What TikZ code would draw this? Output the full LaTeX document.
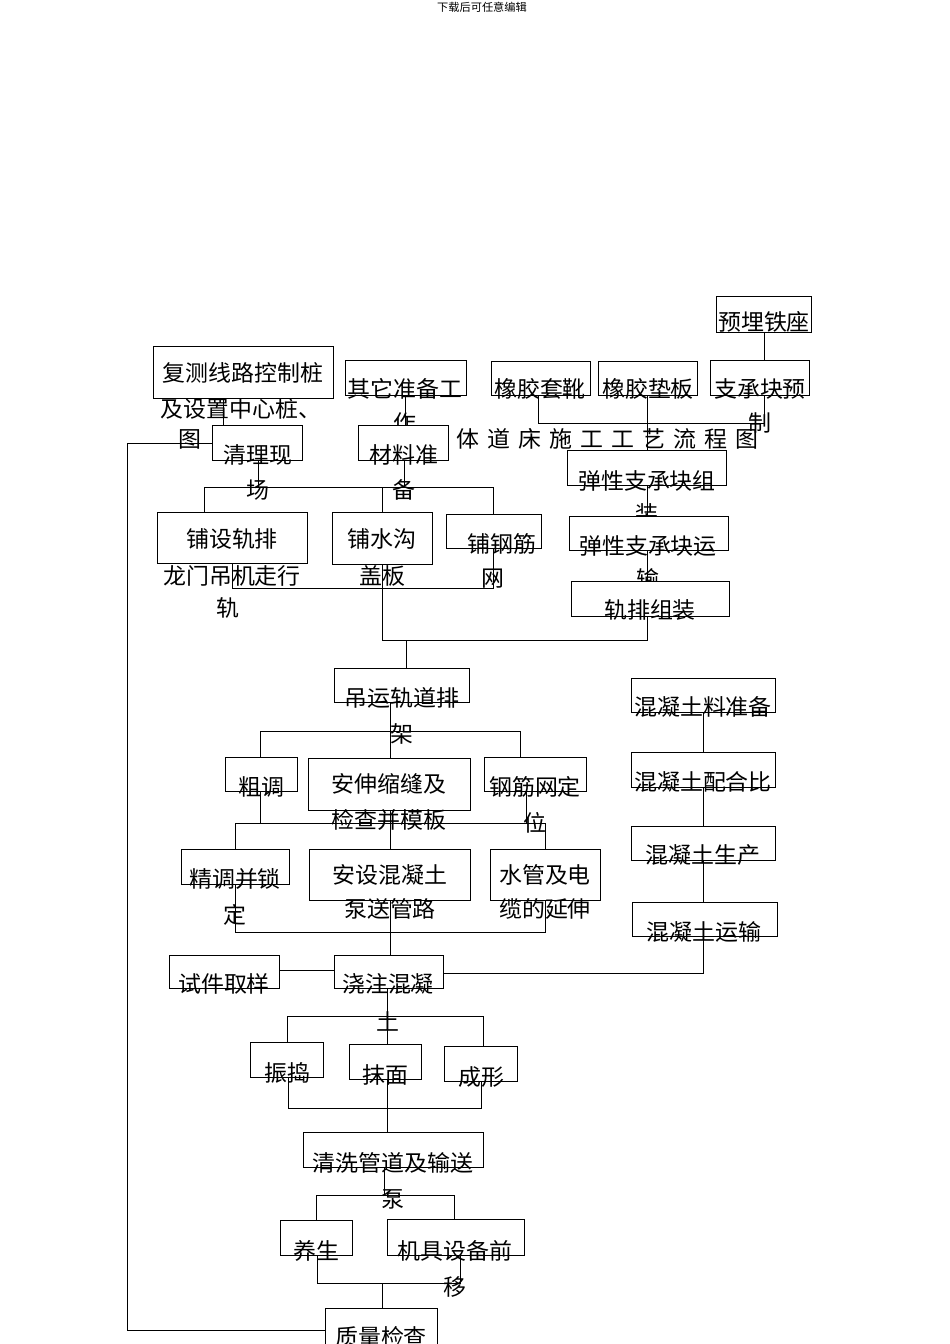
\documentclass[tikz,border=0pt]{standalone}
\usepackage{fontspec}
\newfontfamily\cjk{Noto Sans CJK SC}[FakeStretch=1.02]
\usetikzlibrary{fit}
\tikzset{bxs/.style={draw, fill=white, inner sep=0pt, line width=1pt},
  txt/.style={font=\cjk\fontsize{22.5}{22.5}\selectfont, inner sep=0pt},
  ln/.style={line width=1pt}}
\newcommand\bx[5]{\path (#2,#3) coordinate (#1-a) (#4,#5) coordinate (#1-b); \node[bxs, fit=(#1-a)(#1-b)] (#1) {};}
\newcommand\tx[4]{\node[txt] (#1) at (#2,#3+2) {#4};}
\begin{document}
\begin{tikzpicture}[x=1pt,y=-1pt]
\useasboundingbox[fill=white] (0,0) rectangle (950,1344);
\node[font=\cjk\fontsize{11}{11}\selectfont] (hdr) at (482,7) {下载后可任意编辑};
\tx{title}{561}{437}{弹\hspace{8pt}性\hspace{8pt}整\hspace{8pt}体\hspace{8pt}道\hspace{8pt}床\hspace{8pt}施\hspace{8pt}工\hspace{8pt}工\hspace{8pt}艺\hspace{8pt}流\hspace{8pt}程\hspace{8pt}图}
\bx{ym}{716}{296}{811}{332}\tx{t1}{764}{320}{预埋铁座}
\bx{fc}{153}{346}{333}{398}\tx{t2}{243}{371}{复测线路控制桩}
\tx{t2b}{241}{407}{及设置中心桩、}\tx{t2c}{190}{437}{图}
\bx{qt}{345}{360}{466}{395}\tx{t3}{405}{387}{其它准备工}\tx{t3b}{405}{421}{作}
\bx{xj}{491}{361}{590}{395}\tx{t4}{540}{387}{橡胶套靴}
\bx{xd}{598}{361}{697}{395}\tx{t5}{648}{387}{橡胶垫板}
\bx{zc}{710}{360}{809}{395}\tx{t6}{760}{387}{支承块预}\tx{t6b}{760}{421}{制}
\bx{ql}{212}{425}{302}{460}\tx{t7}{258}{453}{清理现}\tx{t7b}{258}{488}{场}
\bx{cl}{358}{425}{448}{460}\tx{t8}{404}{453}{材料准}\tx{t8b}{404}{488}{备}
\bx{zz}{567}{450}{726}{485}\tx{t9}{647}{479}{弹性支承块组}\tx{t9b}{647}{512}{装}
\bx{ys}{569}{516}{728}{550}\tx{t10}{648}{544}{弹性支承块运}\tx{t10b}{648}{577}{输}
\bx{gp}{571}{581}{729}{616}\tx{t11}{650}{608}{轨排组装}
\bx{pg}{157}{512}{307}{563}\tx{t12}{232}{537}{铺设轨排}
\tx{t12b}{232}{574}{龙门吊机走行}\tx{t12c}{228}{606}{轨}
\bx{ps}{332}{512}{432}{564}\tx{t13}{382}{537}{铺水沟}\tx{t13b}{382}{574}{盖板}
\bx{pj}{446}{514}{541}{548}\tx{t14}{502}{542}{铺钢筋}\tx{t14b}{493}{577}{网}
\bx{dy}{334}{668}{469}{702}\tx{t15}{402}{696}{吊运轨道排}\tx{t15b}{402}{732}{架}
\bx{r1}{631}{678}{775}{712}\tx{t16}{703}{705}{混凝土料准备}
\bx{r2}{631}{752}{775}{787}\tx{t17}{703}{780}{混凝土配合比}
\bx{r3}{631}{826}{775}{860}\tx{t18}{703}{853}{混凝土生产}
\bx{r4}{632}{902}{777}{936}\tx{t19}{704}{930}{混凝土运输}
\bx{ct}{225}{757}{297}{791}\tx{t20}{261}{785}{粗调}
\bx{as}{308}{758}{470}{810}\tx{t21}{389}{782}{安伸缩缝及}\tx{t21b}{389}{818}{检查并模板}
\bx{gw}{484}{757}{586}{791}\tx{t22}{535}{785}{钢筋网定}\tx{t22b}{535}{821}{位}
\bx{jt}{181}{849}{289}{884}\tx{t23}{235}{877}{精调并锁}\tx{t23b}{235}{913}{定}
\bx{ah}{309}{849}{470}{900}\tx{t24}{390}{873}{安设混凝土}\tx{t24b}{390}{907}{泵送管路}
\bx{sg}{490}{849}{600}{900}\tx{t25}{545}{873}{水管及电}\tx{t25b}{545}{907}{缆的延伸}
\bx{sj}{169}{955}{279}{988}\tx{t26}{224}{982}{试件取样}
\bx{jz}{334}{955}{443}{988}\tx{t27}{388}{982}{浇注混凝}\tx{t27b}{388}{1019}{土}
\bx{zd}{250}{1042}{323}{1077}\tx{t28}{287}{1071}{振捣}
\bx{mm}{349}{1044}{421}{1079}\tx{t29}{385}{1073}{抹面}
\bx{cx}{444}{1046}{517}{1081}\tx{t30}{481}{1075}{成形}
\bx{qx}{303}{1132}{483}{1167}\tx{t31}{393}{1161}{清洗管道及输送}\tx{t31b}{393}{1197}{泵}
\bx{yg}{280}{1220}{352}{1255}\tx{t32}{316}{1249}{养生}
\bx{jj}{387}{1219}{524}{1255}\tx{t33}{455}{1249}{机具设备前}\tx{t33b}{455}{1285}{移}
\bx{zl}{325}{1308}{437}{1350}\tx{t34}{381}{1335}{质量检查}
\begin{scope}[ln]
\draw (ym.south -| 764,0) -- (764,0 |- zc.north);
\draw (538,0 |- xj.south) -- (538,423) -- (764,423);
\draw (764,0 |- zc.south) -- (764,423);
\draw (647,0 |- xd.south) -- (647,0 |- zz.north);
\draw (647,0 |- zz.south) -- (647,0 |- ys.north);
\draw (647,0 |- ys.south) -- (647,0 |- gp.north);
\draw (647,0 |- gp.south) -- (647,640) -- (382,640);
\draw (223,0 |- fc.south) -- (223,0 |- ql.north);
\draw (405,0 |- qt.south) -- (405,0 |- cl.north);
\draw (ql.west |- 0,443) -- (127,443) -- (127,1330) -- (zl.west |- 0,1330);
\draw (258,0 |- ql.south) -- (258,487);
\draw (404,0 |- cl.south) -- (404,487);
\draw (204,487) -- (493,487);
\draw (204,487) -- (204,0 |- pg.north);
\draw (382,487) -- (382,0 |- ps.north);
\draw (493,487) -- (493,0 |- pj.north);
\draw (232,0 |- pg.south) -- (232,588) -- (493,588) -- (493,0 |- pj.south);
\draw (382,0 |- ps.south) -- (382,640);
\draw (406,640) -- (406,0 |- dy.north);
\draw (390,0 |- dy.south) -- (390,0 |- as.north);
\draw (260,731) -- (520,731);
\draw (260,731) -- (260,0 |- ct.north);
\draw (520,731) -- (520,0 |- gw.north);
\draw (260,0 |- ct.south) -- (260,823);
\draw (526,0 |- gw.south) -- (526,823);
\draw (235,823) -- (545,823);
\draw (235,823) -- (235,0 |- jt.north);
\draw (545,823) -- (545,0 |- sg.north);
\draw (390,0 |- as.south) -- (390,0 |- ah.north);
\draw (235,0 |- jt.south) -- (235,932) -- (545,932) -- (545,0 |- sg.south);
\draw (390,0 |- ah.south) -- (390,0 |- jz.north);
\draw (sj.east |- 0,970) -- (jz.west |- 0,970);
\draw (jz.east |- 0,973) -- (703,973) -- (703,0 |- r4.south);
\draw (703,0 |- r1.south) -- (703,0 |- r2.north);
\draw (703,0 |- r2.south) -- (703,0 |- r3.north);
\draw (703,0 |- r3.south) -- (703,0 |- r4.north);
\draw (387,0 |- jz.south) -- (387,0 |- mm.north);
\draw (287,1016) -- (483,1016);
\draw (287,1016) -- (287,0 |- zd.north);
\draw (483,1016) -- (483,0 |- cx.north);
\draw (288,0 |- zd.south) -- (288,1108) -- (481,1108) -- (481,0 |- cx.south);
\draw (387,0 |- mm.south) -- (387,0 |- qx.north);
\draw (384,0 |- qx.south) -- (384,1195);
\draw (316,1195) -- (454,1195);
\draw (316,1195) -- (316,0 |- yg.north);
\draw (454,1195) -- (454,0 |- jj.north);
\draw (317,0 |- yg.south) -- (317,1283) -- (460,1283) -- (460,0 |- jj.south);
\draw (382,1283) -- (382,0 |- zl.north);
\end{scope}
\end{tikzpicture}
\end{document}
